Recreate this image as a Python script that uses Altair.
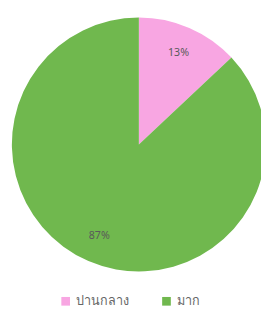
import altair as alt
import pandas as pd

categories = ["ปานกลาง", "มาก"]
values = [13, 87]
labels = ["13%", "87%"]
order = [1, 2]

df = pd.DataFrame({"cat": categories, "val": values, "label": labels, "ord": order})

color = alt.Color(
    "cat:N",
    scale=alt.Scale(domain=categories, range=["#f8a6e2", "#70b84e"]),
    legend=alt.Legend(
        title=None,
        orient="none",
        legendX=53,
        legendY=291,
        direction="horizontal",
        symbolType="square",
        symbolSize=80,
        symbolStrokeWidth=0,
        labelFontSize=13,
        labelColor="#666666",
        labelFont="Noto Sans",
        columnPadding=34,
    ),
)

base = alt.Chart(df).encode(
    theta=alt.Theta("val:Q", stack=True),
    order=alt.Order("ord:Q"),
    x=alt.value(135),
    y=alt.value(136),
)

arcs = base.mark_arc(outerRadius=131).encode(color=color)
text = base.mark_text(radius=103, fontSize=11, color="#5a5a5a", font="Noto Sans").encode(
    text="label:N"
)

chart = (
    (arcs + text)
    .properties(width=261, height=305, padding=0, autosize=alt.AutoSizeParams(type="none"))
    .configure_view(stroke=None)
)

chart.save("out.html", embed_options={"renderer": "svg", "actions": False})
